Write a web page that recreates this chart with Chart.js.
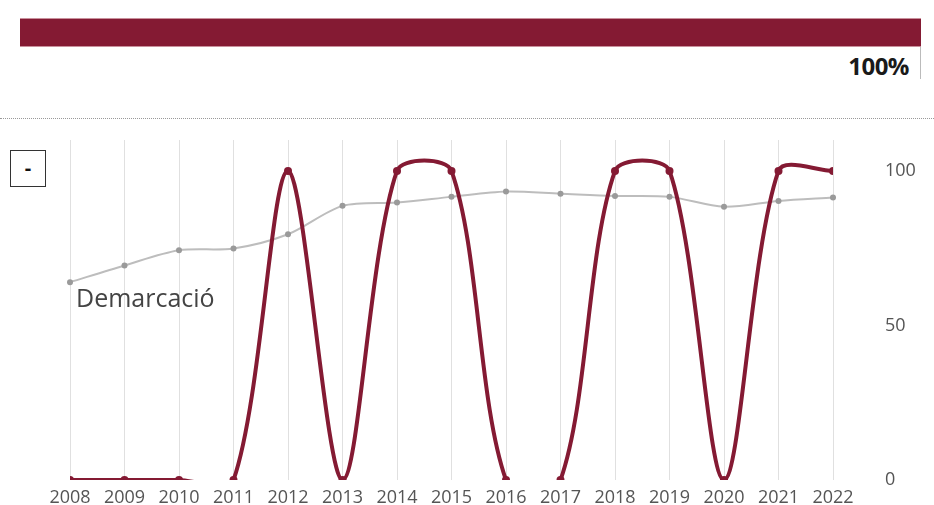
<!DOCTYPE html>
<html>
<head>
<meta charset="utf-8">
<script src="https://cdn.jsdelivr.net/npm/chart.js@4"></script>
<style>
    html, body { margin: 0; padding: 0; background: #fff; }
    body { width: 934px; height: 505px; position: relative; overflow: hidden; font-family: "Open Sans", sans-serif; }
    .top-bar { position: absolute; left: 20px; top: 18px; width: 901px; height: 29px; background: #841a33; border-top: 1px solid #c9909c; border-bottom: 1px solid #c9909c; box-sizing: border-box; }
    .top-tick { position: absolute; left: 920px; top: 47px; width: 1px; height: 32px; background: #bbb; }
    .top-pct { position: absolute; right: 25px; top: 49px; font-size: 24px; font-weight: bold; color: #1a1a1a; letter-spacing: -0.5px; }
    .dots { position: absolute; left: 0; top: 118px; width: 934px; border-top: 1px dotted #999; }
    .toggle { position: absolute; left: 10px; top: 150px; width: 34px; height: 35px; border: 1px solid #333; font-weight: bold; font-size: 20px; line-height: 33px; text-align: center; color: #111; }
    .label { position: absolute; left: 76px; top: 280px; font-family: "Open Sans", sans-serif; font-size: 25px; color: #444; }
    #chart { position: absolute; left: 0; top: 125px; }
</style>
</head>
<body>
<div class="top-bar"></div>
<div class="top-tick"></div>
<div class="top-pct">100%</div>
<div class="dots"></div>
<div class="toggle">-</div>
<canvas id="chart" width="934" height="380"></canvas>
<div class="label">Demarcació</div>
<script>
const years = ['2008', '2009', '2010', '2011', '2012', '2013', '2014', '2015', '2016', '2017', '2018', '2019', '2020', '2021', '2022'];
const selectedValues = [0, 0, 0, 0, 100, 0, 100, 100, 0, 0, 100, 100, 0, 100, 100];
const demarcacioValues = [64, 69.4, 74.3, 74.9, 79.5, 88.7, 89.8, 91.6, 93.3, 92.6, 91.9, 91.6, 88.4, 90.3, 91.4];
const yTicks = [0, 50, 100];

const ctx = document.getElementById('chart');
new Chart(ctx, {
    type: 'line',
    data: {
        labels: years,
        datasets: [{
            label: 'Selecció',
            data: selectedValues,
            borderColor: '#841a33',
            backgroundColor: '#841a33',
            borderWidth: 4,
            pointRadius: 4,
            pointBorderWidth: 0,
            tension: 0.3,
            clip: 0
        }, {
            label: 'Demarcació',
            data: demarcacioValues,
            borderColor: '#bdbdbd',
            backgroundColor: '#9a9a9a',
            borderWidth: 2,
            pointRadius: 3,
            pointBorderWidth: 0,
            tension: 0.3
        }]
    },
    options: {
        responsive: false,
        animation: false,
        elements: {
            line: { capBezierPoints: false }
        },
        layout: {
            padding: { top: 15, left: 70, right: 0, bottom: 0 }
        },
        plugins: {
            legend: { display: false },
            tooltip: { enabled: false }
        },
        scales: {
            x: {
                offset: false,
                grid: { color: '#e0e0e0', drawTicks: false },
                border: { display: false },
                ticks: {
                    color: '#555',
                    padding: 7,
                    autoSkip: false,
                    maxRotation: 0,
                    font: { family: 'Open Sans', size: 18 }
                },
                afterFit: function(scale) { scale.height = 25; }
            },
            y: {
                position: 'right',
                min: 0,
                max: 110,
                grid: { display: false, drawTicks: true, tickLength: 48 },
                border: { display: false },
                afterBuildTicks: function(scale) {
                    scale.ticks = yTicks.map(v => ({ value: v }));
                },
                ticks: {
                    color: '#555',
                    padding: 4,
                    font: { family: 'Open Sans', size: 18 }
                },
                afterFit: function(scale) {
                    scale.width = 101;
                    scale.paddingTop = 0;
                    scale.paddingBottom = 0;
                }
            }
        }
    }
});
</script>
</body>
</html>
